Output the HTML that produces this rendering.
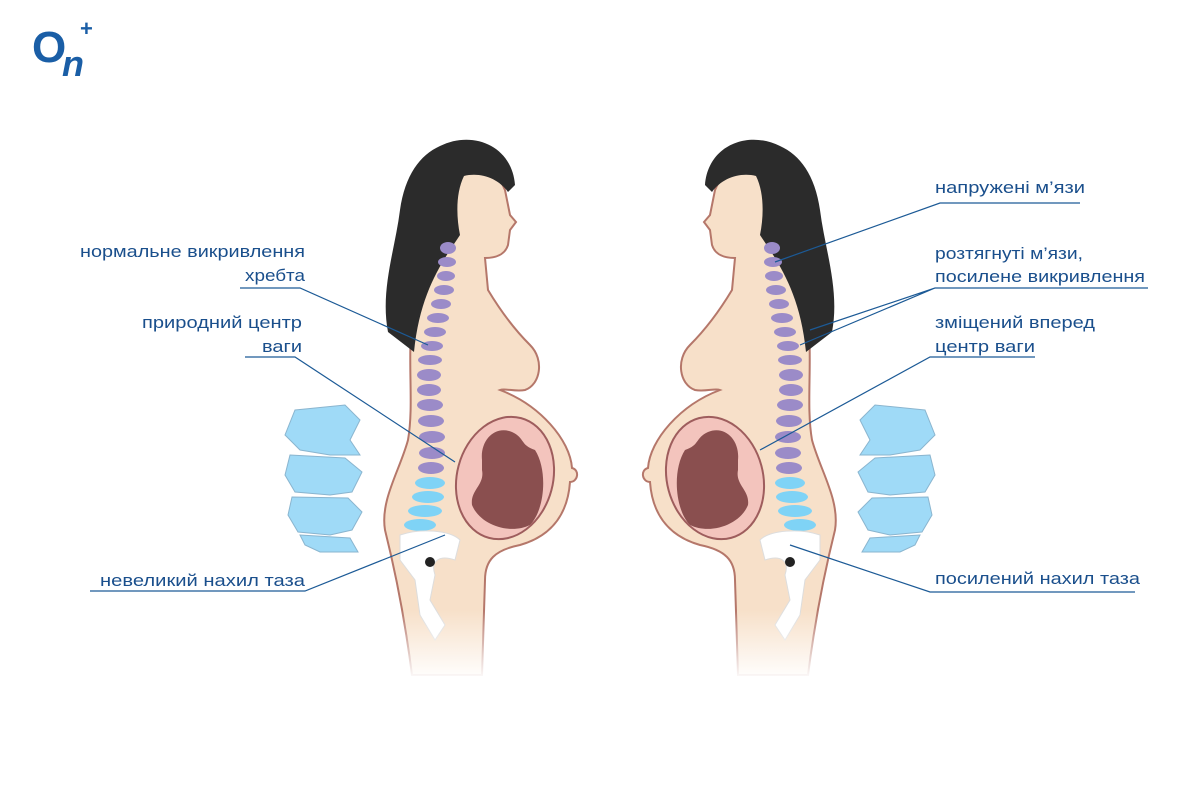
<!DOCTYPE html>
<html><head><meta charset="utf-8"><style>
body{margin:0;background:#fff}
svg{display:block}
text{font-family:"Liberation Sans","DejaVu Sans",sans-serif;font-size:17px;fill:#1a4f8c}
</style></head><body>
<svg width="1200" height="800" viewBox="0 0 1200 800" xmlns="http://www.w3.org/2000/svg">
<defs>
<linearGradient id="fade" x1="0" y1="0" x2="0" y2="1">
<stop offset="0" stop-color="#fff" stop-opacity="0"/><stop offset="1" stop-color="#fff" stop-opacity="1"/>
</linearGradient>
<g id="fig">
<path d="M460,170 C470,160 495,165 505,190 L510,215 L516,222 L510,230 L508,245 C505,255 495,258 485,258 L488,290 C500,310 515,330 530,345 C545,360 540,385 525,390 C515,392 505,388 500,390 C540,405 570,440 572,468 C580,470 578,482 570,482 C568,510 555,535 520,545 C495,550 485,560 485,580 L482,675 L412,675 C405,620 395,570 385,530 C380,500 400,470 408,440 C415,400 405,350 415,300 C420,270 440,250 440,230 C430,210 445,175 460,170 Z" fill="#f7e0c9" stroke="#b5776a" stroke-width="2"/>
<path d="M440,146 C472,130 512,145 515,185 L508,192 C498,178 480,172 464,176 C456,192 456,215 460,235 C442,262 420,292 414,352 L388,332 C380,290 395,250 400,210 C405,175 420,155 440,146 Z" fill="#2b2b2b"/>
<g fill="#9b8bc8">
<ellipse cx="448" cy="248" rx="8" ry="6"/><ellipse cx="447" cy="262" rx="9" ry="5"/><ellipse cx="446" cy="276" rx="9" ry="5"/><ellipse cx="444" cy="290" rx="10" ry="5"/><ellipse cx="441" cy="304" rx="10" ry="5"/><ellipse cx="438" cy="318" rx="11" ry="5"/><ellipse cx="435" cy="332" rx="11" ry="5"/><ellipse cx="432" cy="346" rx="11" ry="5"/><ellipse cx="430" cy="360" rx="12" ry="5"/><ellipse cx="429" cy="375" rx="12" ry="6"/><ellipse cx="429" cy="390" rx="12" ry="6"/><ellipse cx="430" cy="405" rx="13" ry="6"/><ellipse cx="431" cy="421" rx="13" ry="6"/><ellipse cx="432" cy="437" rx="13" ry="6"/><ellipse cx="432" cy="453" rx="13" ry="6"/><ellipse cx="431" cy="468" rx="13" ry="6"/>
</g>
<g fill="#7fd3f6">
<ellipse cx="430" cy="483" rx="15" ry="6"/><ellipse cx="428" cy="497" rx="16" ry="6"/><ellipse cx="425" cy="511" rx="17" ry="6"/><ellipse cx="420" cy="525" rx="16" ry="6"/>
</g>
<path d="M400,535 C420,528 450,530 460,540 L455,560 C440,555 430,560 435,575 L430,600 L445,625 L435,640 L420,615 L415,580 L400,560 Z" fill="#fff" stroke="#ddd"/>
<circle cx="430" cy="562" r="5" fill="#222"/>
<ellipse cx="505" cy="478" rx="48" ry="62" transform="rotate(15 505 478)" fill="#f3c4bd" stroke="#9e5d5d" stroke-width="2"/>
<path d="M482,460 C480,440 495,425 512,432 C525,438 520,445 535,450 C548,470 545,510 530,525 C510,535 480,525 472,505 C470,490 485,485 482,470 Z" fill="#8a4f4f"/>
<rect x="380" y="610" width="200" height="70" fill="url(#fade)"/>
<g fill="#9fdaf7" stroke="#8ab5cf" stroke-width="1">
<path d="M295,410 L345,405 L360,420 L350,440 L360,455 L330,455 L300,450 L285,435 Z"/>
<path d="M290,455 L345,458 L362,472 L352,492 L330,495 L295,492 L285,475 Z"/>
<path d="M292,497 L348,498 L362,512 L352,530 L330,535 L298,532 L288,515 Z"/>
<path d="M300,535 L350,538 L358,552 L320,552 L305,545 Z"/>
</g>
</g>
</defs>
<use href="#fig"/>
<use href="#fig" transform="translate(1220,0) scale(-1,1)"/>
<text x="32" y="62" style="font-size:44px;font-weight:bold;fill:#1a5ea6">O</text>
<text x="62" y="76" style="font-size:36px;font-weight:bold;font-style:italic;fill:#1a5ea6">n</text>
<text x="80" y="36" style="font-size:22px;font-weight:bold;fill:#1a5ea6">+</text>
<g stroke="#1c5a96" stroke-width="1.2" fill="none">
<path d="M240,288 L300,288 L428,345"/>
<path d="M245,357 L295,357 L455,462"/>
<path d="M90,591 L305,591 L445,535"/>
<path d="M1080,203 L940,203 L775,262"/>
<path d="M1148,288 L935,288 L810,330 M935,288 L800,345"/>
<path d="M1035,357 L930,357 L760,450"/>
<path d="M1135,592 L930,592 L790,545"/>
</g>
<text x="80" y="257" textLength="225" lengthAdjust="spacingAndGlyphs">нормальне викривлення</text>
<text x="245" y="281" textLength="60" lengthAdjust="spacingAndGlyphs">хребта</text>
<text x="142" y="328" textLength="160" lengthAdjust="spacingAndGlyphs">природний центр</text>
<text x="262" y="352" textLength="40" lengthAdjust="spacingAndGlyphs">ваги</text>
<text x="100" y="586" textLength="205" lengthAdjust="spacingAndGlyphs">невеликий нахил таза</text>
<text x="935" y="193" textLength="150" lengthAdjust="spacingAndGlyphs">напружені м’язи</text>
<text x="935" y="259" textLength="148" lengthAdjust="spacingAndGlyphs">розтягнуті м’язи,</text>
<text x="935" y="282" textLength="210" lengthAdjust="spacingAndGlyphs">посилене викривлення</text>
<text x="935" y="328" textLength="160" lengthAdjust="spacingAndGlyphs">зміщений вперед</text>
<text x="935" y="352" textLength="100" lengthAdjust="spacingAndGlyphs">центр ваги</text>
<text x="935" y="584" textLength="205" lengthAdjust="spacingAndGlyphs">посилений нахил таза</text>
</svg>
</body></html>
